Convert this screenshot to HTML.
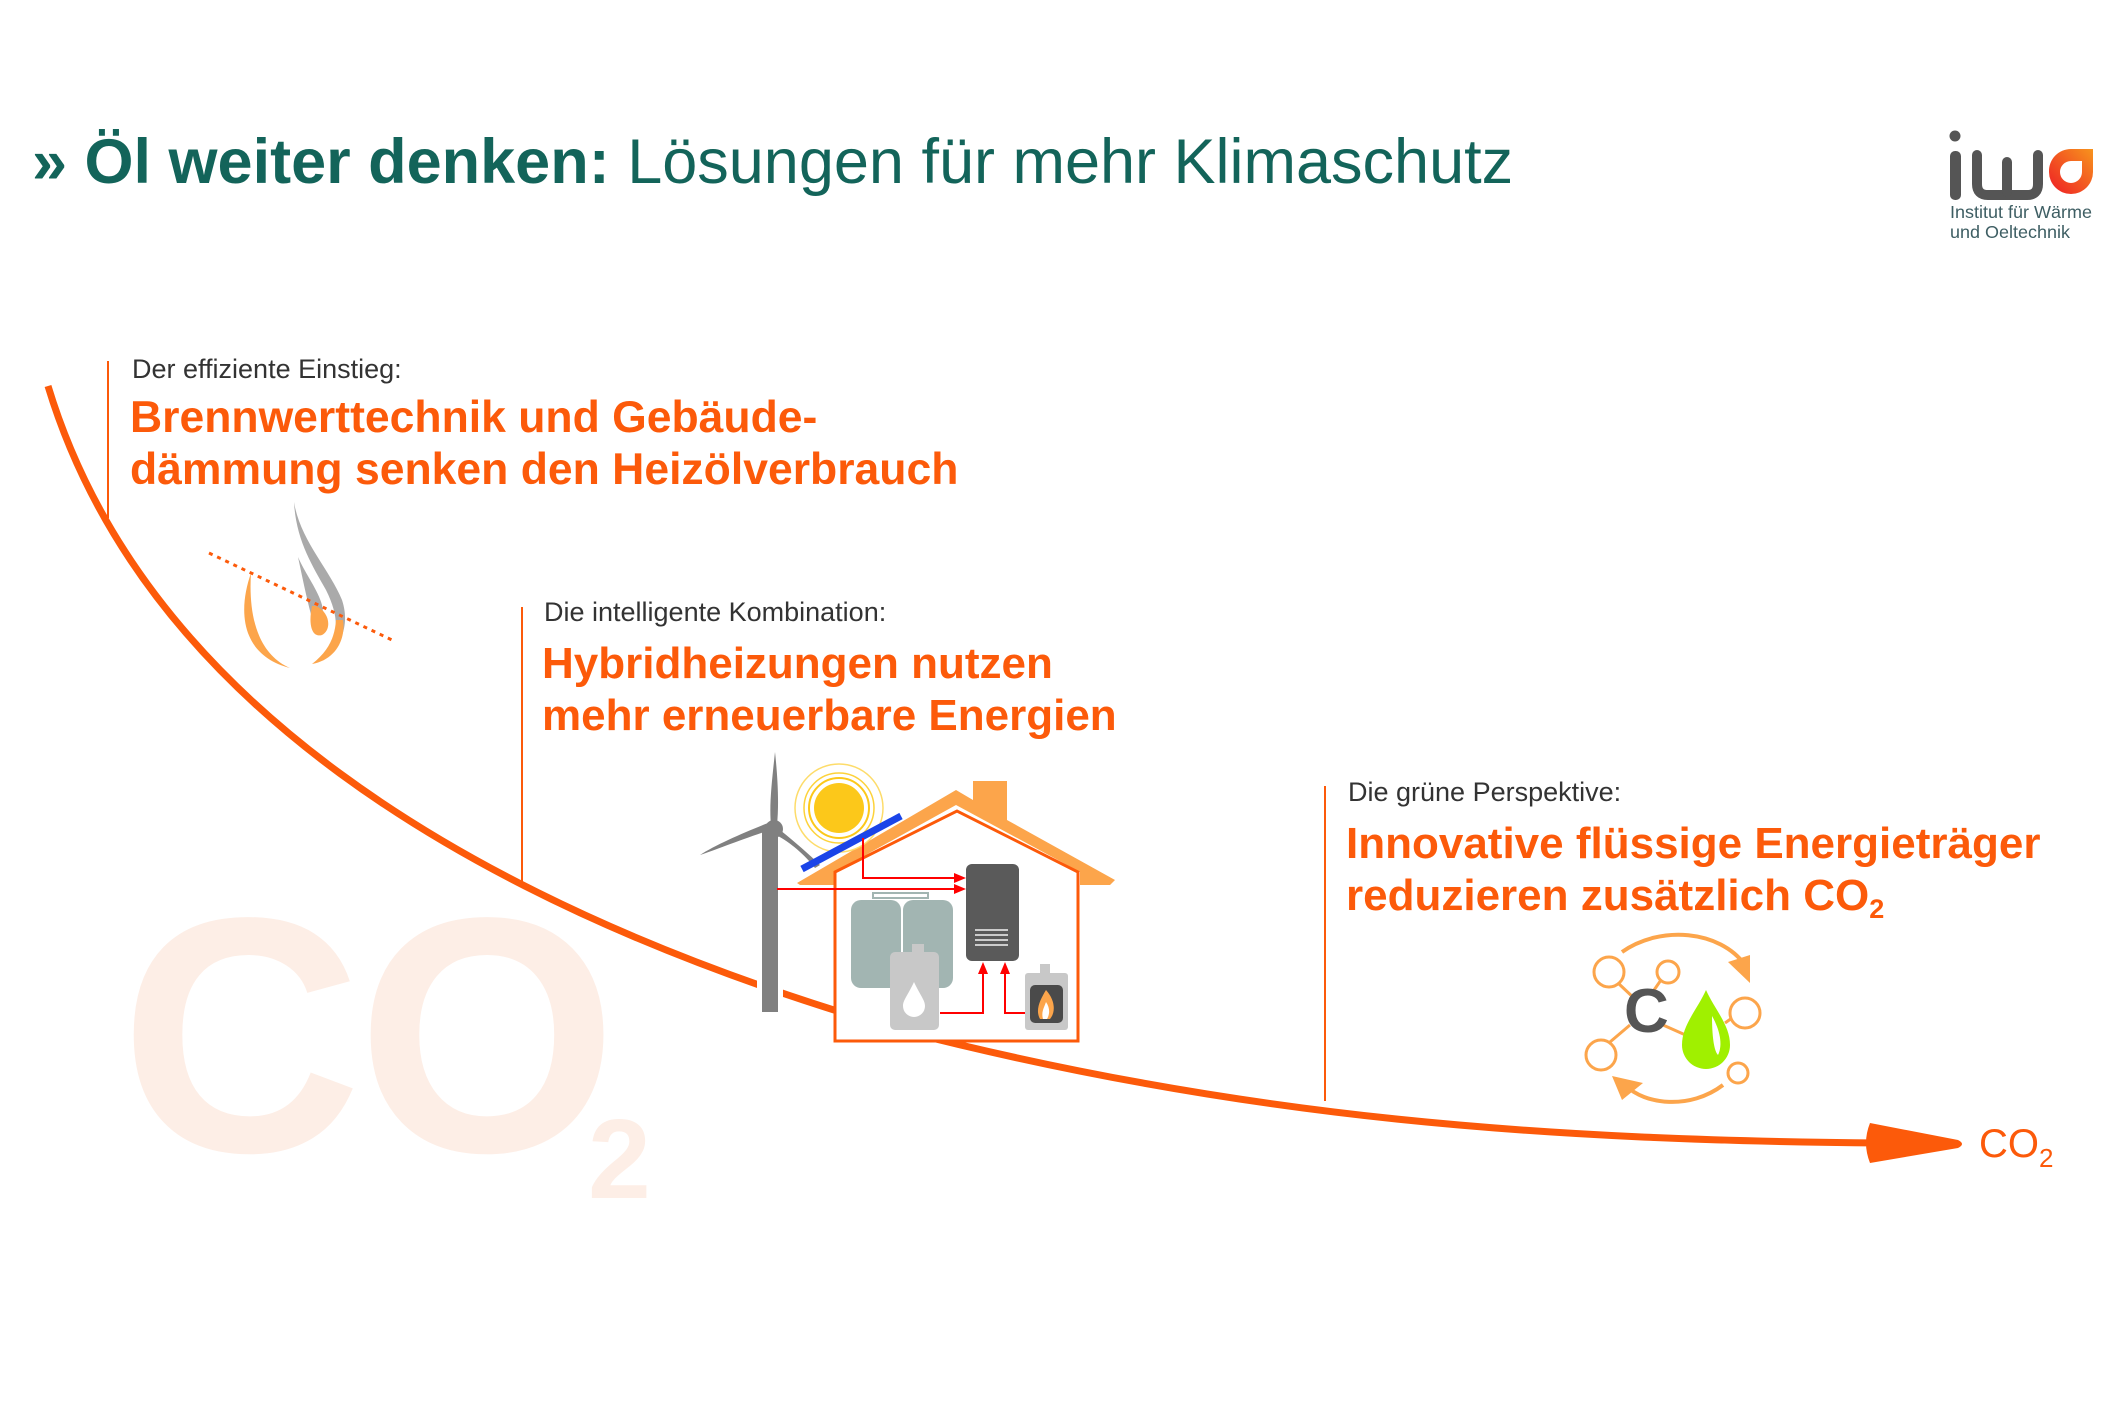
<!DOCTYPE html>
<html><head><meta charset="utf-8"><style>
html,body{margin:0;padding:0;background:#fff}
body{width:2126px;height:1417px;position:relative;overflow:hidden;font-family:"Liberation Sans",Arial,sans-serif}
.t{position:absolute;white-space:nowrap}
.lab{font-size:27px;color:#333}
.hl{font-size:44.5px;font-weight:bold;color:#fc5a0a;line-height:52px}
.vl{position:absolute;width:2px;background:#fc5a0a}
</style></head><body>
<svg width="2126" height="1417" style="position:absolute;left:0;top:0">
<text x="120" y="1151" font-family="Liberation Sans" font-weight="bold" font-size="335" fill="#fdeee6" letter-spacing="-5">CO</text>
<text x="588" y="1198" font-family="Liberation Sans" font-weight="bold" font-size="113" fill="#fdeee6">2</text>
<path d="M294,502 C300,540 330,570 342,600 C348,618 344,632 340,640 L334,640 C338,625 336,610 326,590 C312,565 296,540 294,502Z" fill="#aaa"/>
<path d="M298,557 C306,575 318,590 322,605 C325,618 320,628 316,630 C310,615 304,585 298,557Z" fill="#aaa"/>
<path d="M316,606 C330,612 332,630 322,635 C312,638 308,625 312,606Z" fill="#fca54b"/>
<path d="M251,573 C238,610 240,655 290,668 C260,655 248,620 251,573Z" fill="#fca54b"/>
<path d="M343,620 C346,640 335,660 312,664 C330,650 335,635 336,620Z" fill="#fca54b"/>
<line x1="209" y1="553" x2="392" y2="640" stroke="#fc5a0a" stroke-width="3" stroke-dasharray="4,5"/>
<path d="M48,386 C140,690 450,900 900,1030 C1250,1120 1550,1140 1880,1143" fill="none" stroke="#fc5a0a" stroke-width="7"/>
<path d="M1870,1123 L1958,1140 Q1966,1144 1958,1148 L1870,1163 Q1862,1143 1870,1123Z" fill="#fc5a0a"/>
<g>
<polygon points="797,883 956,790 973,800 973,781 1007,781 1007,820 1115,880 1110,885 1080,885 1080,872 956,805 835,872 835,885 800,885" fill="#fca54b"/>
<polygon points="835,872 957,811 1078,872 1078,1041 835,1041" fill="#fff" stroke="#fc5a0a" stroke-width="3"/>
<rect x="762" y="830" width="16" height="182" fill="#808080" stroke="#fff" stroke-width="10" paint-order="stroke"/>
<rect x="762" y="830" width="16" height="182" fill="#808080"/>
<path d="M775,752 C778,780 779,805 777,825 L771,825 C769,805 772,780 775,752Z" fill="#808080"/>
<path d="M770,830 C740,840 715,850 700,855 C715,845 745,832 768,823Z" fill="#808080"/>
<path d="M780,830 C795,842 810,855 820,865 L815,868 C805,855 790,842 776,835Z" fill="#808080"/>
<circle cx="774" cy="829" r="9" fill="#808080"/>
<circle cx="839" cy="808" r="44" fill="none" stroke="#fddc6a" stroke-width="1.5"/>
<circle cx="839" cy="808" r="35" fill="none" stroke="#fdd23a" stroke-width="1.5"/>
<circle cx="839" cy="808" r="30" fill="none" stroke="#fcc81a" stroke-width="2"/>
<circle cx="839" cy="808" r="25" fill="#fcc81a"/>
<line x1="802" y1="869" x2="901" y2="816" stroke="#1a44e8" stroke-width="7"/>
<g stroke="#f00" stroke-width="2" fill="none">
<polyline points="863,838 863,878 958,878"/>
<line x1="777" y1="889" x2="958" y2="889"/>
<polyline points="940,1013 983,1013 983,970"/>
<polyline points="1025,1013 1005,1013 1005,970"/>
</g>
<g fill="#f00">
<polygon points="966,878 954,873 954,883"/><polygon points="966,889 954,884 954,894"/>
<polygon points="983,962 978,974 988,974"/><polygon points="1005,962 1000,974 1010,974"/>
</g>
<rect x="966" y="864" width="53" height="97" rx="6" fill="#5a5a5a"/>
<g stroke="#ccc" stroke-width="2"><line x1="975" y1="930" x2="1008" y2="930"/><line x1="975" y1="935" x2="1008" y2="935"/><line x1="975" y1="940" x2="1008" y2="940"/><line x1="975" y1="945" x2="1008" y2="945"/></g>
<rect x="873" y="893" width="55" height="5" fill="none" stroke="#a2b5b2" stroke-width="2"/>
<rect x="851" y="900" width="50" height="88" rx="10" fill="#a2b5b2"/>
<rect x="903" y="900" width="50" height="88" rx="10" fill="#a2b5b2"/>
<rect x="912" y="944" width="12" height="12" fill="#c8c8c8"/>
<rect x="890" y="952" width="49" height="78" rx="5" fill="#c8c8c8"/>
<path d="M914,982 C920,995 925,1000 925,1006 A10,10 0 0 1 903,1006 C903,1000 908,995 914,982Z" fill="#fff"/>
<rect x="1040" y="964" width="10" height="10" fill="#c8c8c8"/>
<rect x="1025" y="973" width="43" height="57" rx="3" fill="#c8c8c8"/>
<rect x="1030" y="985" width="33" height="38" rx="5" fill="#4a4a4a"/>
<path d="M1046,990 C1055,1000 1056,1012 1050,1019 L1040,1019 C1035,1010 1040,1000 1046,990Z" fill="#fca54b"/>
<path d="M1046,1002 C1050,1008 1050,1014 1047,1019 L1043,1019 C1041,1012 1044,1008 1046,1002Z" fill="#fff"/>
</g>
<g stroke="#fca54b" stroke-width="3" fill="none">
<line x1="1618" y1="983" x2="1636" y2="1000"/><line x1="1661" y1="980" x2="1652" y2="993"/>
<line x1="1610" y1="1042" x2="1630" y2="1025"/><line x1="1663" y1="1025" x2="1690" y2="1037"/>
<line x1="1725" y1="1023" x2="1732" y2="1018"/>
<circle cx="1609" cy="972" r="15" fill="#fff"/><circle cx="1668" cy="972" r="11" fill="#fff"/>
<circle cx="1601" cy="1055" r="15" fill="#fff"/><circle cx="1745" cy="1013" r="15" fill="#fff"/>
<circle cx="1738" cy="1073" r="10" fill="#fff"/>
<path d="M1622,952 C1660,925 1720,930 1745,965" stroke-width="4"/>
<path d="M1723,1085 C1690,1110 1645,1105 1625,1085" stroke-width="4"/>
</g>
<polygon points="1728,962 1750,955 1750,983" fill="#fca54b"/>
<polygon points="1612,1076 1643,1083 1622,1100" fill="#fca54b"/>
<text x="1624" y="1032" font-family="Liberation Sans" font-weight="bold" font-size="62" fill="#555">C</text>
<path d="M1706,990 C1715,1010 1730,1025 1730,1045 A24,24 0 0 1 1682,1045 C1682,1025 1697,1010 1706,990Z" fill="#a0f000"/>
<path d="M1712,1016 C1720,1030 1723,1045 1718,1055 C1713,1050 1712,1030 1712,1016Z" fill="#fff"/>
<circle cx="1955" cy="136" r="5.5" fill="#555"/>
<rect x="1950" y="151" width="11" height="49" rx="5" fill="#555"/>
<path d="M1977,155 L1977,184 Q1977,195 1988,195 L2027,195 Q2038,195 2038,184 L2038,155" fill="none" stroke="#555" stroke-width="10" stroke-linecap="round"/>
<line x1="2007" y1="162" x2="2007" y2="192" stroke="#555" stroke-width="10" stroke-linecap="round"/>
<defs><linearGradient id="g" x1="0" y1="1" x2="1" y2="0"><stop offset="0" stop-color="#ee1c25"/><stop offset="1" stop-color="#f7941d"/></linearGradient></defs>
<path d="M2071,149 L2093,149 L2093,172 A22,22 0 0 1 2071,194 A22,22 0 0 1 2049,172 A22,22 0 0 1 2071,149Z M2071,161 A11,11 0 0 0 2060,172 A11,11 0 0 0 2071,183 A11,11 0 0 0 2082,172 L2082,161Z" fill="url(#g)" fill-rule="evenodd"/>
<text x="1950" y="218" font-family="Liberation Sans" font-size="17.5" fill="#3e5e63" textLength="142" lengthAdjust="spacingAndGlyphs">Institut für Wärme</text>
<text x="1950" y="238" font-family="Liberation Sans" font-size="17.5" fill="#3e5e63" textLength="120" lengthAdjust="spacingAndGlyphs">und Oeltechnik</text>
</svg>
<div class="t" style="left:32px;top:127px;font-size:63px;color:#13645a;line-height:70px"><b>» Öl weiter denken:</b> Lösungen für mehr Klimaschutz</div>
<div class="vl" style="left:107px;top:361px;height:157px"></div>
<div class="t lab" style="left:132px;top:354px">Der effiziente Einstieg:</div>
<div class="t hl" style="left:130px;top:392px">Brennwerttechnik und Gebäude-<br>dämmung senken den Heizölverbrauch</div>
<div class="vl" style="left:521px;top:607px;height:280px"></div>
<div class="t lab" style="left:544px;top:597px">Die intelligente Kombination:</div>
<div class="t hl" style="left:542px;top:638px;font-size:44px">Hybridheizungen nutzen<br>mehr erneuerbare Energien</div>
<div class="vl" style="left:1324px;top:786px;height:315px"></div>
<div class="t lab" style="left:1348px;top:777px">Die grüne Perspektive:</div>
<div class="t hl" style="left:1346px;top:818px;font-size:44px">Innovative flüssige Energieträger<br>reduzieren zusätzlich CO<span style="font-size:27px;vertical-align:-8px">2</span></div>
<div class="t" style="left:1979px;top:1122px;font-size:40px;color:#fc5a0a">CO<span style="font-size:26px;vertical-align:-10px">2</span></div>
</body></html>
